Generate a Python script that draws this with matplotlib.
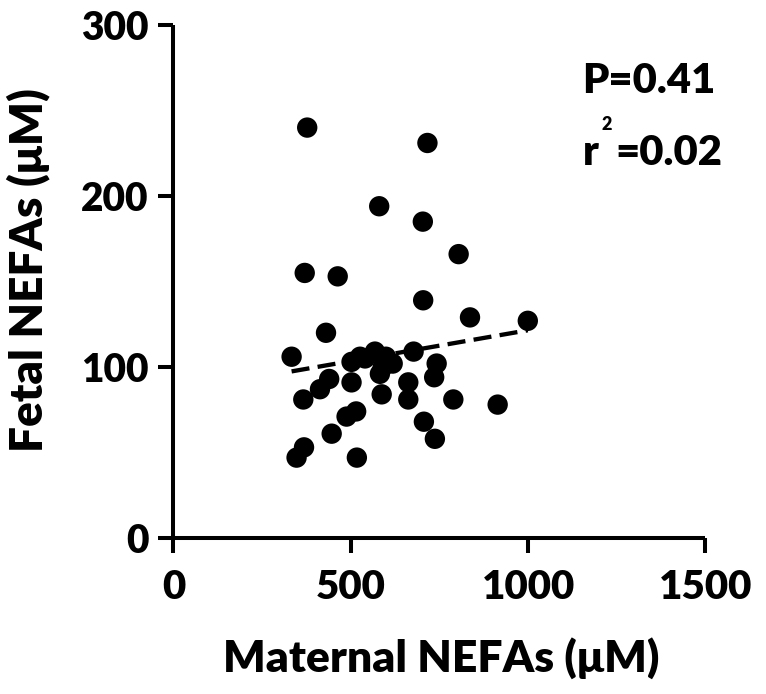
import matplotlib
matplotlib.use("Agg")
import matplotlib.pyplot as plt
import numpy as np

# maternal vs fetal NEFAs (uM)
maternal = [377, 716, 580, 703, 804, 370, 463, 704, 836, 999,
            430, 333, 677, 502, 526, 568, 599, 618, 582, 587,
            742, 735, 439, 413, 366, 502, 662, 662, 789, 914,
            515, 488, 706, 737, 446, 368, 347, 517, 540, 590]
fetal = [240, 231, 194, 185, 166, 155, 153, 139, 129, 127,
         120, 106, 109, 103, 106, 109, 106, 102, 96, 84,
         102, 94, 93, 87, 81, 91, 91, 81, 81, 78,
         74, 71, 68, 58, 61, 53, 47, 47, 105, 100]

# regression line as shown on the chart
fit_slope = 0.0361
fit_intercept = 85.4

xticks = [0, 500, 1000, 1500]
yticks = [0, 100, 200, 300]
p_text = "P=0.41"
r2_text = "=0.02"

plt.rcParams['lines.scale_dashes'] = False
W = 'heavy'

fig = plt.figure(figsize=(7.66, 6.94), dpi=100)
ax = fig.add_axes([0.2265, 0.2248, 0.6945, 0.7392])

x = np.array(maternal, dtype=float)
y = np.array(fetal, dtype=float)
ax.scatter(x, y, s=215, color='black', edgecolors='none', zorder=3)

xs = np.array([x.min(), x.max()])
ax.plot(xs, fit_slope * xs + fit_intercept, color='black', lw=3.1, dashes=(13, 6), zorder=2)

ax.set_xlim(0, 1500)
ax.set_ylim(0, 300)
ax.set_xticks(xticks)
ax.set_yticks(yticks)
ax.set_xticklabels([str(t) for t in xticks], fontfamily='Lato', fontweight=W, fontsize=29)
ax.set_yticklabels([str(t) for t in yticks], fontfamily='Lato', fontweight=W, fontsize=28)

for s in ['top', 'right']:
    ax.spines[s].set_visible(False)
for s in ['left', 'bottom']:
    ax.spines[s].set_linewidth(2.9)
    ax.spines[s].set_capstyle('butt')
ax.tick_params(axis='both', length=11, width=2.9, direction='out')
ax.tick_params(axis='x', pad=11)
ax.tick_params(axis='y', pad=7)

ax.set_xlabel("Maternal NEFAs (\u03bcM)", fontfamily='Lato', fontweight=W, fontsize=32,
              va='baseline')
ax.xaxis.set_label_coords(0.504, -0.261)
ax.set_ylabel("Fetal NEFAs (\u03bcM)", fontfamily='Lato', fontweight=W, fontsize=33,
              va='baseline')
ax.yaxis.set_label_coords(-0.247, 0.522)

# stats text
fig.text(715 / 766, 1 - 93 / 694, p_text, ha='right', va='baseline',
         fontfamily='Lato', fontweight=W, fontsize=30)
fig.text(583 / 766, 1 - 165 / 694, "r", ha='left', va='baseline',
         fontfamily='Lato', fontweight=W, fontsize=30)
fig.text(601 / 766, 1 - 130 / 694, "2", ha='left', va='baseline',
         fontfamily='Lato', fontweight=W, fontsize=13)
fig.text(722 / 766, 1 - 165 / 694, r2_text, ha='right', va='baseline',
         fontfamily='Lato', fontweight=W, fontsize=30)

fig.savefig("out.png", dpi=100)
